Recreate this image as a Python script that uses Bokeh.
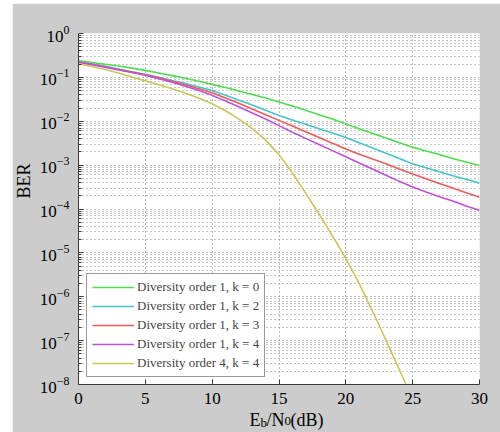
from bokeh.plotting import figure
from bokeh.models import Range1d, FixedTicker, Legend, LegendItem, Title
from bokeh.embed import file_html
from bokeh.resources import INLINE

# Eb/N0 in dB
snr_db = list(range(0, 31))
# log10(BER)
log_ber_div1_k0 = [-0.62, -0.66, -0.70, -0.74, -0.79, -0.84, -0.90, -0.96, -1.02, -1.09,
                   -1.16, -1.23, -1.31, -1.39, -1.47, -1.56, -1.65, -1.75, -1.85, -1.95,
                   -2.06, -2.17, -2.28, -2.38, -2.49, -2.59, -2.68, -2.76, -2.85, -2.93, -3.01]
log_ber_div1_k2 = [-0.64, -0.69, -0.75, -0.81, -0.87, -0.93, -1.00, -1.07, -1.14, -1.22,
                   -1.30, -1.41, -1.52, -1.63, -1.75, -1.87, -1.97, -2.07, -2.17, -2.27,
                   -2.37, -2.49, -2.61, -2.73, -2.85, -2.97, -3.06, -3.15, -3.24, -3.32, -3.41]
log_ber_div1_k3 = [-0.65, -0.70, -0.76, -0.82, -0.88, -0.94, -1.01, -1.09, -1.17, -1.26,
                   -1.35, -1.47, -1.59, -1.72, -1.85, -1.98, -2.11, -2.24, -2.37, -2.50,
                   -2.63, -2.75, -2.86, -2.97, -3.09, -3.20, -3.31, -3.42, -3.52, -3.63, -3.73]
log_ber_div1_k4 = [-0.66, -0.71, -0.77, -0.83, -0.89, -0.95, -1.03, -1.11, -1.20, -1.30,
                   -1.41, -1.54, -1.67, -1.81, -1.95, -2.10, -2.25, -2.39, -2.53, -2.67,
                   -2.81, -2.95, -3.09, -3.23, -3.37, -3.50, -3.61, -3.72, -3.82, -3.93, -4.03]
snr_db_div4 = [0, 1, 2, 3, 4, 5, 6, 7, 8, 9, 10, 11, 12, 13, 14, 15, 16, 17, 18, 19,
               20, 21, 22, 23, 24, 24.5]
log_ber_div4_k4 = [-0.69, -0.75, -0.82, -0.90, -0.99, -1.08, -1.17, -1.26, -1.36, -1.47,
                   -1.60, -1.76, -1.95, -2.17, -2.43, -2.76, -3.18, -3.64, -4.12, -4.61,
                   -5.13, -5.70, -6.33, -6.99, -7.66, -8.00]

series_labels = ["Diversity order 1, k = 0", "Diversity order 1, k = 2",
                 "Diversity order 1, k = 3", "Diversity order 1, k = 4",
                 "Diversity order 4, k = 4"]
series_colors = ["#4fdc4f", "#45c4cc", "#ee5a5a", "#c050d8", "#c8c85a"]

x_ticks = [0, 5, 10, 15, 20, 25, 30]
y_decades = list(range(-8, 1))

SERIF = "Liberation Serif"
BG = "#cccccc"

p = figure(width=488, height=429, margin=(3, 0, 0, 12),
           x_range=Range1d(0, 30), y_range=Range1d(1e-8, 1),
           y_axis_type="log", output_backend="svg", toolbar_location=None,
           min_border_left=66, min_border_right=21, min_border_top=30, min_border_bottom=48,
           background_fill_color="white", border_fill_color=BG)
p.outline_line_color = None

p.xaxis.ticker = FixedTicker(ticks=x_ticks, minor_ticks=[])
p.yaxis.ticker = FixedTicker(ticks=[10.0 ** d for d in y_decades],
                             minor_ticks=[m * 10.0 ** d for d in y_decades[:-1] for m in range(2, 10)])

for ax in (p.xaxis[0], p.yaxis[0]):
    ax.axis_line_color = "#3a3a3a"
    ax.major_tick_line_color = "#3a3a3a"
    ax.minor_tick_line_color = "#3a3a3a"
    ax.major_tick_in = 5
    ax.major_tick_out = 0
    ax.minor_tick_in = 3
    ax.minor_tick_out = 0
    ax.major_label_text_font = SERIF
    ax.major_label_text_font_size = "17px"
    ax.major_label_text_color = "black"
p.xaxis.major_label_standoff = 8
p.yaxis.major_label_standoff = 9
# tiny blank axis label used only as vertical spacing below the tick labels
p.xaxis.axis_label = " "
p.xaxis.axis_label_text_font_size = "1px"
p.xaxis.axis_label_standoff = 4

for g in (p.xgrid[0], p.ygrid[0]):
    g.grid_line_color = "#7a7a7a"
    g.grid_line_dash = "1 3"
    g.grid_line_width = 1
p.ygrid.minor_grid_line_color = "#8a8a8a"
p.ygrid.minor_grid_line_dash = "1 3"

all_y = [log_ber_div1_k0, log_ber_div1_k2, log_ber_div1_k3, log_ber_div1_k4, log_ber_div4_k4]
all_x = [snr_db, snr_db, snr_db, snr_db, snr_db_div4]
items = []
for xs, ly, lab, col in zip(all_x, all_y, series_labels, series_colors):
    r = p.line(xs, [10.0 ** v for v in ly], line_color=col, line_width=1.6)
    items.append(LegendItem(label=lab, renderers=[r]))

legend = Legend(items=items, location=(8, 7), padding=5, spacing=3,
                glyph_width=42, glyph_height=16, label_height=16, label_standoff=3,
                label_text_font=SERIF, label_text_font_size="13px",
                border_line_color="#333333", border_line_width=1,
                background_fill_color="white", background_fill_alpha=1.0, margin=0)
p.add_layout(legend, "center")

# y axis title (side panel, not clipped)
p.add_layout(Title(text="BER", align="left", offset=186, vertical_align="top", standoff=1,
                   text_font=SERIF, text_font_size="18px", text_font_style="normal",
                   text_color="black"), "left")

# x axis title with subscripts: E_b/N_0(dB)
def xt(text, offset, valign, standoff, size):
    return Title(text=text, align="left", offset=offset, vertical_align=valign,
                 standoff=standoff, text_font=SERIF, text_font_size=size,
                 text_font_style="normal", text_color="black")

p.add_layout(xt("E\u2004/N\u2004(dB)", 171, "bottom", -14, "18px"), "below")
p.add_layout(xt("b", 182, "top", -15, "13px"), "below")
p.add_layout(xt("0", 206, "top", -15, "13px"), "below")

open("out.html", "w").write(file_html(p, INLINE))
